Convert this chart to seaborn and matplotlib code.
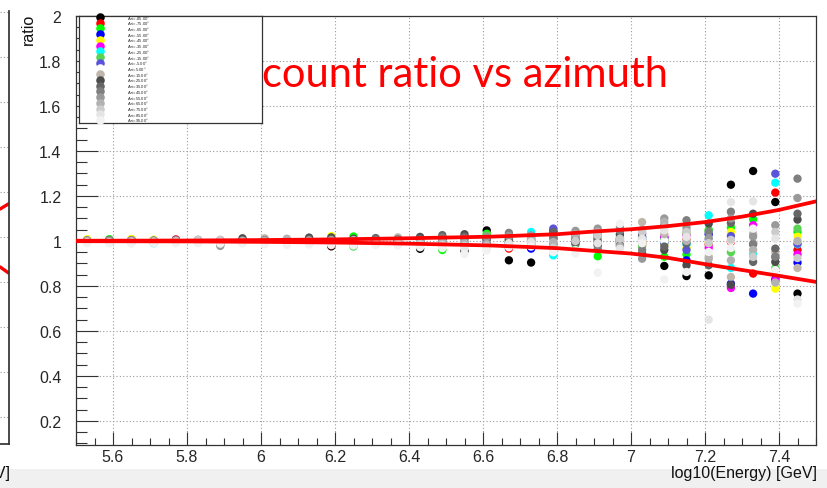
import matplotlib
matplotlib.use("Agg")
import matplotlib.pyplot as plt
import matplotlib.ticker as mticker
from matplotlib.patches import Rectangle
import seaborn as sns
import pandas as pd

# ---------------- data ----------------
energy = [5.53, 5.59, 5.65, 5.71, 5.77, 5.83, 5.89, 5.95, 6.01, 6.07, 6.13,
          6.19, 6.25, 6.31, 6.37, 6.43, 6.49, 6.55, 6.61, 6.67, 6.73, 6.79,
          6.85, 6.91, 6.97, 7.03, 7.09, 7.15, 7.21, 7.27, 7.33, 7.39, 7.45]

azi_labels = ["-85.00", "-75.00", "-65.00", "-55.00", "-45.00", "-35.00",
              "-25.00", "-15.00", "-5.00", "5.00", "15.00", "25.00", "35.00",
              "45.00", "55.00", "65.00", "75.00", "85.00", "95.00"]

azi_colors = ["#000000", "#ff0000", "#00ff00", "#0000ff", "#ffff00", "#ff00ff",
              "#00ffff", "#59d454", "#5954d9", "#ffffff", "#c0b6ac", "#4c4c4c",
              "#666666", "#7f7f7f", "#999999", "#b2b2b2", "#cccccc", "#e5e5e5",
              "#f2f2f2"]

azi_m85 = [1.000, 1.001, 0.999, 1.002, 0.998, 1.001, 1.003, 0.999, 1.002, 0.998, 1.003,
           0.976, 1.004, 1.002, 0.999, 0.965, 1.003, 0.956, 1.047, 0.914, 0.904, 1.015,
           0.995, 1.008, 1.002, 1.005, 0.889, 0.844, 0.847, 1.250, 1.311, 1.173, 0.766]
azi_m75 = [1.003, 0.998, 1.007, 0.999, 1.007, 1.000, 0.999, 1.002, 0.999, 1.001, 1.000,
           0.981, 0.998, 1.000, 1.003, 0.995, 0.996, 1.005, 1.004, 0.966, 1.005, 0.990,
           1.010, 0.995, 0.988, 0.984, 1.000, 1.005, 0.985, 0.996, 0.855, 1.215, 0.960]
azi_m65 = [1.004, 1.008, 1.001, 1.003, 1.002, 0.998, 1.001, 1.000, 1.003, 1.000, 0.998,
           1.003, 1.020, 0.997, 1.001, 1.002, 0.960, 0.998, 1.032, 1.010, 0.995, 1.005,
           0.985, 0.932, 1.010, 0.990, 0.930, 0.940, 1.050, 1.060, 1.096, 0.929, 1.040]
azi_m55 = [0.999, 1.002, 0.998, 1.001, 1.000, 1.003, 0.997, 1.003, 1.001, 1.002, 1.001,
           0.998, 1.001, 1.003, 0.998, 0.998, 1.004, 1.002, 0.995, 0.990, 0.966, 1.045,
           1.002, 1.012, 0.995, 1.015, 1.015, 0.914, 1.030, 0.810, 0.766, 0.830, 0.904]
azi_m45 = [1.008, 0.999, 1.009, 1.006, 0.999, 1.001, 1.002, 0.998, 0.997, 1.003, 1.002,
           1.022, 0.997, 1.001, 1.002, 1.004, 1.001, 0.996, 1.008, 1.004, 1.008, 0.996,
           1.008, 0.990, 0.995, 1.000, 0.985, 0.969, 0.995, 1.040, 0.960, 0.788, 1.020]
azi_m35 = [1.001, 1.003, 1.002, 0.998, 1.003, 0.999, 1.000, 1.001, 1.002, 0.999, 1.000,
           1.004, 1.002, 0.999, 1.000, 1.000, 0.998, 1.004, 0.998, 1.006, 1.002, 1.006,
           0.993, 1.020, 1.000, 0.995, 1.020, 1.025, 0.970, 0.791, 1.070, 0.825, 0.940]
azi_m25 = [0.998, 0.997, 1.000, 0.990, 1.001, 1.002, 0.998, 1.002, 1.000, 1.001, 0.999,
           0.996, 0.999, 1.002, 0.997, 1.006, 1.002, 0.994, 1.012, 0.995, 1.040, 0.936,
           1.015, 1.005, 1.025, 1.010, 0.995, 0.985, 1.114, 0.880, 0.940, 1.259, 0.985]
azi_m15 = [1.002, 1.006, 0.998, 1.000, 0.998, 1.000, 1.003, 0.999, 1.001, 0.998, 1.003,
           1.002, 0.975, 1.000, 1.002, 0.996, 1.006, 1.008, 1.025, 0.998, 0.990, 1.010,
           0.990, 0.985, 1.015, 0.975, 1.005, 1.035, 1.045, 0.950, 1.000, 0.880, 1.055]
azi_m5 = [1.000, 1.000, 1.003, 0.999, 1.002, 0.998, 1.001, 1.000, 0.998, 1.002, 1.001,
          1.000, 1.000, 0.998, 1.001, 1.003, 1.010, 1.000, 1.002, 1.012, 1.012, 1.055,
          0.998, 1.030, 1.008, 1.032, 0.990, 0.960, 1.005, 1.022, 0.985, 1.299, 0.988]
azi_p5 = [1.000, 1.000, 1.000, 1.000, 1.000, 1.000, 1.000, 1.000, 1.000, 1.000, 1.000,
          1.000, 1.000, 1.000, 1.000, 1.000, 1.000, 1.000, 1.000, 1.000, 1.000, 1.000,
          1.000, 1.000, 1.000, 1.000, 1.000, 1.000, 1.000, 1.000, 1.000, 1.000, 1.000]
azi_p15 = [1.003, 0.998, 1.004, 1.002, 0.999, 1.003, 0.998, 1.002, 1.012, 1.001, 1.004,
           1.006, 1.003, 1.004, 1.016, 1.008, 1.012, 1.010, 1.015, 1.008, 1.015, 1.020,
           1.012, 1.015, 1.005, 1.084, 1.030, 1.045, 0.930, 0.840, 1.032, 0.950, 0.880]
azi_p25 = [1.001, 1.002, 0.999, 1.000, 1.001, 1.000, 1.002, 1.012, 1.003, 1.000, 1.015,
           1.016, 1.010, 1.008, 1.005, 1.018, 1.008, 1.030, 1.010, 1.000, 0.985, 1.030,
           1.005, 0.980, 1.030, 0.944, 0.960, 0.892, 1.077, 0.805, 1.121, 0.907, 1.095]
azi_p35 = [0.999, 1.003, 1.001, 0.998, 1.003, 1.001, 0.999, 1.004, 1.000, 1.003, 1.008,
           1.008, 1.006, 1.013, 1.002, 1.010, 1.026, 1.020, 1.006, 1.018, 1.000, 1.040,
           0.990, 1.000, 0.980, 1.020, 0.975, 0.990, 0.892, 1.080, 0.907, 0.966, 1.121]
azi_p45 = [1.002, 0.999, 1.003, 1.002, 0.998, 0.999, 0.985, 1.001, 0.999, 1.002, 1.000,
           1.002, 1.000, 1.005, 1.008, 1.004, 1.015, 1.012, 0.992, 1.036, 1.020, 1.012,
           1.025, 0.965, 1.045, 0.960, 1.070, 1.092, 1.040, 1.130, 0.988, 0.930, 1.277]
azi_p55 = [0.998, 1.001, 0.998, 1.001, 1.000, 1.002, 0.978, 0.998, 1.002, 1.006, 0.998,
           0.997, 0.995, 1.000, 1.003, 0.992, 1.000, 0.995, 1.018, 1.022, 1.025, 0.985,
           1.045, 1.055, 1.060, 0.921, 1.100, 1.060, 1.013, 1.100, 1.020, 1.070, 1.191]
azi_p65 = [1.000, 0.997, 1.000, 0.999, 1.002, 1.006, 1.001, 1.000, 1.001, 1.010, 1.002,
           1.003, 1.004, 0.996, 0.998, 0.998, 0.992, 0.988, 0.985, 0.982, 1.010, 0.995,
           1.030, 1.040, 0.975, 1.050, 1.085, 1.000, 0.920, 0.914, 0.960, 0.815, 1.000]
azi_p75 = [0.996, 0.995, 0.996, 0.996, 0.997, 1.004, 1.006, 0.996, 0.995, 0.993, 0.994,
           0.992, 0.991, 0.992, 0.993, 0.986, 0.984, 0.978, 0.976, 0.978, 0.980, 0.970,
           1.000, 1.025, 1.010, 1.040, 1.060, 1.040, 0.990, 1.005, 0.929, 1.040, 0.924]
azi_p85 = [0.993, 0.992, 0.993, 0.993, 0.994, 0.994, 0.995, 0.992, 0.990, 0.988, 0.989,
           0.986, 0.985, 0.986, 0.985, 0.978, 0.975, 0.965, 0.968, 0.990, 0.995, 0.955,
           0.960, 0.990, 0.965, 1.010, 1.047, 1.018, 0.650, 1.173, 1.176, 1.010, 0.740]
azi_p95 = [0.990, 0.989, 0.988, 0.991, 0.990, 0.990, 0.988, 0.989, 0.985, 0.982, 0.984,
           0.982, 0.980, 0.982, 0.980, 0.972, 0.968, 0.942, 0.958, 0.972, 0.975, 0.950,
           0.944, 0.859, 1.077, 0.990, 0.829, 0.862, 0.951, 0.969, 1.055, 0.870, 0.721]

series_values = [azi_m85, azi_m75, azi_m65, azi_m55, azi_m45, azi_m35, azi_m25,
                 azi_m15, azi_m5, azi_p5, azi_p15, azi_p25, azi_p35, azi_p45,
                 azi_p55, azi_p65, azi_p75, azi_p85, azi_p95]

# red envelope curves
curve_x = [5.50, 5.80, 6.00, 6.20, 6.40, 6.62, 6.80, 6.90, 7.00, 7.10, 7.20, 7.30, 7.40, 7.50]
curve_upper = [1.001, 1.002, 1.004, 1.007, 1.012, 1.019, 1.030, 1.042, 1.052, 1.066, 1.084, 1.108, 1.138, 1.176]
curve_lower = [0.999, 0.998, 0.996, 0.993, 0.988, 0.980, 0.968, 0.956, 0.944, 0.925, 0.897, 0.871, 0.845, 0.818]

# partial neighbour panel on the far left
left_x = [0.0, 1.0]
left_upper = [1.124, 1.147]
left_lower = [0.867, 0.840]

x_ticks = [5.6, 5.8, 6.0, 6.2, 6.4, 6.6, 6.8, 7.0, 7.2, 7.4]
y_ticks = [0.2, 0.4, 0.6, 0.8, 1.0, 1.2, 1.4, 1.6, 1.8, 2.0]

# ---------------- figure ----------------
sns.set_theme(style="white")
plt.rcParams["font.family"] = ["Liberation Sans", "DejaVu Sans"]

W, H = 827, 489
fig = plt.figure(figsize=(W / 100, H / 100), dpi=100)
fig.patch.set_facecolor("white")

def fx(px):
    return px / W

def fy(py):
    return 1 - py / H

# grey strip at the bottom of the screenshot
fig.patches.append(Rectangle((0, 0), 1, fy(470), transform=fig.transFigure,
                             facecolor="#f0f0f0", edgecolor="none", zorder=0))

ax = fig.add_axes([fx(76), fy(446), fx(816) - fx(76), fy(17) - fy(446)])
ax.set_facecolor("white")

rows = []
for lab, vals in zip(azi_labels, series_values):
    for e, v in zip(energy, vals):
        rows.append({"energy": e, "ratio": v, "azi": lab})
df = pd.DataFrame(rows)
palette = dict(zip(azi_labels, azi_colors))

sns.scatterplot(data=df, x="energy", y="ratio", hue="azi", palette=palette,
                hue_order=azi_labels, s=36, linewidth=0, legend=False, ax=ax,
                zorder=3)
sns.lineplot(x=curve_x, y=curve_upper, color="#ff0000", lw=2.7, ax=ax,
             estimator=None, zorder=4)
sns.lineplot(x=curve_x, y=curve_lower, color="#ff0000", lw=2.7, ax=ax,
             estimator=None, zorder=4)

ax.set_xlim(5.5, 7.5)
ax.set_ylim(0.093, 2.0)
ax.set_xticks(x_ticks)
ax.set_yticks(y_ticks)
ax.xaxis.set_minor_locator(mticker.MultipleLocator(0.05))
ax.yaxis.set_minor_locator(mticker.MultipleLocator(0.05))
fmt = mticker.FuncFormatter(lambda v, p: "%g" % round(v, 3))
ax.xaxis.set_major_formatter(fmt)
ax.yaxis.set_major_formatter(fmt)
ax.grid(True, which="major", linestyle=(0, (1, 2)), color="#9a9a9a", lw=0.8)
ax.set_axisbelow(True)
ax.tick_params(axis="y", which="major", direction="in", length=15.8, width=0.8,
               color="#333333", pad=10.5, labelsize=11.5, left=True, right=False)
ax.tick_params(axis="y", which="minor", direction="in", length=7.9, width=0.8,
               color="#333333", left=True, right=False)
ax.tick_params(axis="x", which="major", direction="in", length=9.4, width=0.8,
               color="#333333", pad=3.0, labelsize=11.5, bottom=True, top=False)
ax.tick_params(axis="x", which="minor", direction="in", length=4.7, width=0.8,
               color="#333333", bottom=True, top=False)
for sp in ax.spines.values():
    sp.set_color("#333333")
    sp.set_linewidth(0.9)
ax.set_xlabel("")
ax.set_ylabel("")

# legend drawn as an inset box
lg = ax.inset_axes([(79 - 76) / 740, (446 - 124) / 429, (262 - 79) / 740, (124 - 17) / 429])
lg.set_zorder(10)
lg.set_facecolor("white")
lg.set_xlim(79, 262)
lg.set_ylim(124, 17)
lg.set_xticks([])
lg.set_yticks([])
for sp in lg.spines.values():
    sp.set_color("#333333")
    sp.set_linewidth(0.9)
for i, (lab, col) in enumerate(zip(azi_labels, azi_colors)):
    yy = 18 + 5.72 * i
    lg.scatter([100], [yy], s=38, color=col, linewidths=0, clip_on=False, zorder=3)
    lg.text(127, yy, "Azi=" + lab + "$^{\\circ}$", fontsize=3.0, va="center",
            ha="left", color="#222222")

# axis titles
fig.text(fx(817), fy(474), "log10(Energy) [GeV]", ha="right", va="center",
         fontsize=11.5, color="#111111")
fig.text(fx(28), fy(14), "ratio", ha="center", va="top", rotation=90,
         fontsize=11.5, color="#111111")

# overlay title
fig.text(fx(262), fy(75), "count ratio vs azimuth", ha="left", va="center",
         fontsize=30, color="#ff0000", family=["Lato", "DejaVu Sans"], zorder=20)

# partial neighbouring panel at left edge
axl = fig.add_axes([0, fy(445), fx(8.5), fy(12) - fy(445)])
axl.set_xlim(0, 1)
axl.set_ylim(0.08, 2.004)
axl.set_yticks(y_ticks)
axl.set_xticks([])
axl.tick_params(left=False, labelleft=False)
axl.grid(True, axis="y", linestyle=(0, (1, 2)), color="#9a9a9a", lw=0.8)
axl.plot(left_x, left_upper, color="#ff0000", lw=2.4)
axl.plot(left_x, left_lower, color="#ff0000", lw=2.4)
for k in ("left", "top"):
    axl.spines[k].set_visible(False)
axl.spines["right"].set_color("#333333")
axl.spines["bottom"].set_color("#333333")
fig.text(fx(10), fy(474), "log10(Energy) [GeV]", ha="right", va="center",
         fontsize=11.5, color="#111111")

fig.savefig("out.png", dpi=100)
